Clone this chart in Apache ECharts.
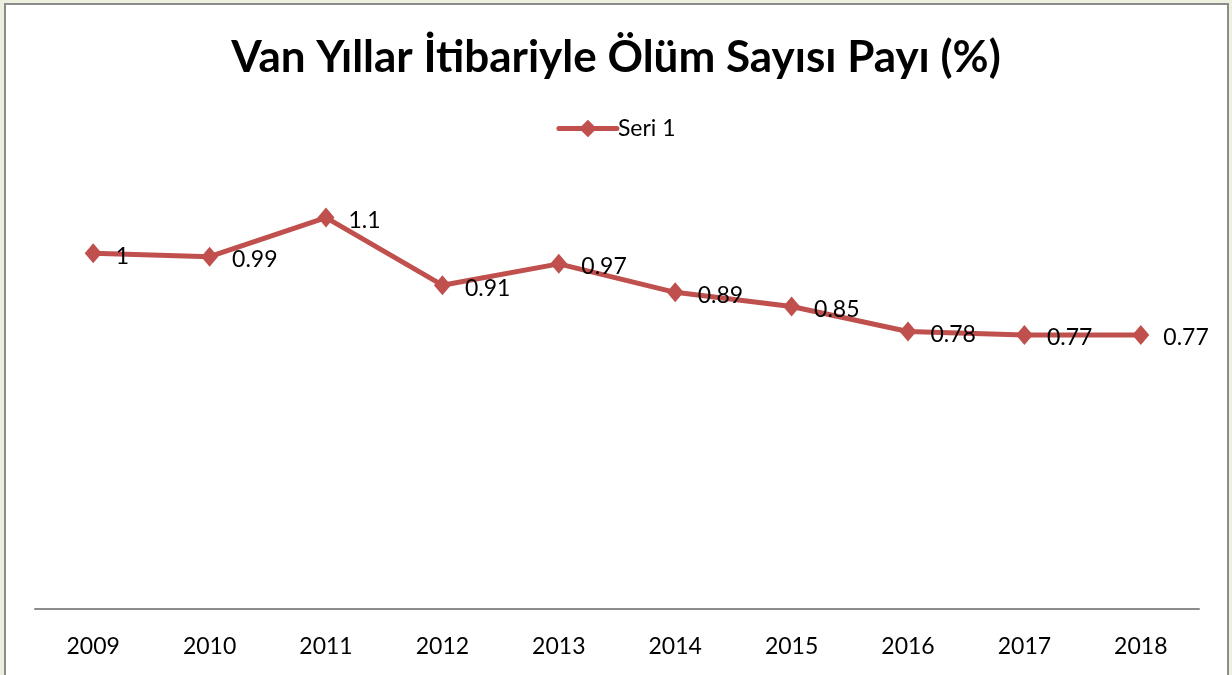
<!DOCTYPE html>
<html>
<head>
<meta charset="utf-8">
<script src="https://cdn.jsdelivr.net/npm/echarts@6/dist/echarts.min.js"></script>
<style>
html,body{margin:0;padding:0;background:#EBF1DE;}
#c{width:1232px;height:675px;}
</style>
</head>
<body>
<div id="c"></div>
<script>
const titleText = 'Van Yıllar İtibariyle Ölüm Sayısı Payı (%)';
const seriesName = 'Seri 1';
const categories = ['2009','2010','2011','2012','2013','2014','2015','2016','2017','2018'];
const values = [1, 0.99, 1.1, 0.91, 0.97, 0.89, 0.85, 0.78, 0.77, 0.77];

const FONT = 'Lato';
const chart = echarts.init(document.getElementById('c'));
chart.setOption({
  backgroundColor: '#EBF1DE',
  animation: false,
  graphic: [{
    type: 'rect',
    shape: {x: 5, y: 4, width: 1223, height: 700},
    style: {fill: '#ffffff', stroke: '#8C8C8C', lineWidth: 2},
    z: -10
  }],
  title: {
    text: titleText,
    left: 'center',
    top: 31,
    textStyle: {fontFamily: FONT, fontWeight: 'bold', fontSize: 44, color: '#000'}
  },
  legend: {
    data: [seriesName],
    top: 112,
    left: 'center',
    itemWidth: 58,
    itemHeight: 22,
    itemGap: 4,
    lineStyle: {width: 5, cap: 'round'},
    textStyle: {fontFamily: FONT, fontSize: 23, color: '#000', padding: [0,0,0,-4]}
  },
  grid: {left: 35, right: 33, top: 182, bottom: 66},
  xAxis: {
    type: 'category',
    data: categories,
    boundaryGap: true,
    axisLine: {lineStyle: {color: '#8C8C8C', width: 2}},
    axisTick: {show: false},
    axisLabel: {fontFamily: FONT, fontSize: 23, color: '#000', margin: 26}
  },
  yAxis: {
    type: 'value',
    min: 0, max: 1.2, interval: 0.2,
    show: false,
    splitLine: {show: false}
  },
  series: [{
    name: seriesName,
    type: 'line',
    data: values,
    color: '#C0504D',
    lineStyle: {width: 5, color: '#C0504D'},
    symbol: 'diamond',
    symbolSize: [17, 20],
    itemStyle: {color: '#C0504D'},
    label: {
      show: true,
      position: 'right',
      distance: 14,
      offset: [0, 3],
      fontFamily: FONT,
      fontSize: 23,
      color: '#000'
    }
  }]
});
</script>
</body>
</html>
